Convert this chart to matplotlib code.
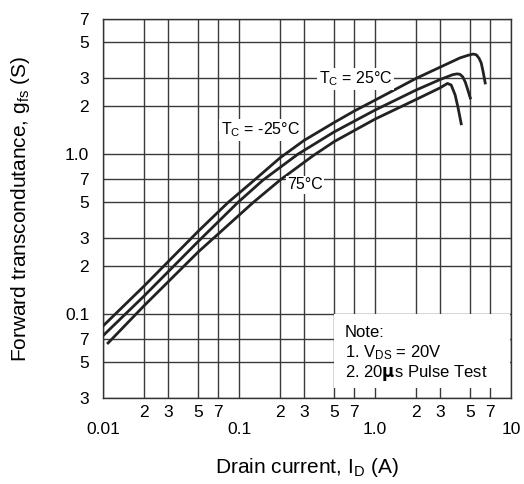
import matplotlib
matplotlib.use("Agg")
import matplotlib.pyplot as plt
from matplotlib.patches import Rectangle
from matplotlib.ticker import FixedLocator, NullFormatter

plt.rcParams['font.family'] = ['Liberation Sans', 'DejaVu Sans']
plt.rcParams['mathtext.default'] = 'regular'

# drain current (A) and forward transconductance (S)
id_top = [0.01, 0.02, 0.05, 0.083, 0.127, 0.2, 0.3, 0.5, 0.7, 1.0, 2.0, 3.0, 4.2,
          4.8, 5.26, 5.55, 5.8, 6.02, 6.22, 6.44]
gfs_top = [0.0845, 0.15, 0.33, 0.5, 0.68, 0.95, 1.22, 1.58, 1.86, 2.18, 2.98, 3.5, 4.0,
           4.15, 4.23, 4.18, 3.98, 3.72, 3.27, 2.79]

id_mid = [0.01, 0.02, 0.05, 0.098, 0.15, 0.27, 0.5, 1.0, 2.0, 3.0, 3.7, 4.0, 4.2,
          4.4, 4.6, 4.8, 5.0]
gfs_mid = [0.0735, 0.13, 0.285, 0.5, 0.69, 1.0, 1.38, 1.89, 2.52, 2.93, 3.14, 3.18, 3.16,
           3.05, 2.82, 2.52, 2.25]

id_low = [0.0109, 0.02, 0.05, 0.127, 0.2, 0.35, 0.5, 1.0, 2.0, 3.0, 3.4, 3.62, 3.87,
          4.07, 4.29]
gfs_low = [0.0662, 0.113, 0.245, 0.5, 0.69, 0.98, 1.2, 1.66, 2.2, 2.6, 2.77, 2.71, 2.35,
           1.95, 1.55]

x_major = [0.01, 0.1, 1.0, 10]
x_major_labels = ["0.01", "0.1", "1.0", "10"]
x_minor = [0.02, 0.03, 0.05, 0.07, 0.2, 0.3, 0.5, 0.7, 2, 3, 5, 7]
x_minor_labels = ["2", "3", "5", "7"] * 3

y_ticks = [0.03, 0.05, 0.07, 0.1, 0.2, 0.3, 0.5, 0.7, 1.0, 2, 3, 5, 7]
y_labels = ["3", "5", "7", "0.1", "2", "3", "5", "7", "1.0", "2", "3", "5", "7"]

fig = plt.figure(figsize=(5.24, 4.84), dpi=100)
ax = fig.add_axes([0.1966, 0.1777, 0.7790, 0.7830])
ax.set_xscale('log')
ax.set_yscale('log')
ax.set_xlim(0.01, 10)
ax.set_ylim(0.03, 7)

ax.xaxis.set_major_locator(FixedLocator(x_major))
ax.xaxis.set_minor_locator(FixedLocator(x_minor))
ax.set_xticklabels(x_major_labels)
ax.set_xticklabels(x_minor_labels, minor=True)
ax.tick_params(axis='x', which='major', length=0, pad=17, labelsize=12.5)
ax.tick_params(axis='x', which='minor', length=0, pad=5, labelsize=12.5)

ax.yaxis.set_major_locator(FixedLocator(y_ticks))
ax.yaxis.set_minor_locator(FixedLocator([]))
ax.yaxis.set_minor_formatter(NullFormatter())
ax.set_yticklabels(y_labels)
ax.tick_params(axis='y', which='both', length=0, pad=10, labelsize=12.5)

ax.grid(True, which='both', color='#3a3a3a', linewidth=1.0)
ax.set_axisbelow(True)
for s in ax.spines.values():
    s.set_color('#333333')
    s.set_linewidth(1.0)

for xs, ys in [(id_top, gfs_top), (id_mid, gfs_mid), (id_low, gfs_low)]:
    ax.plot(xs, ys, color='#222222', linewidth=2.0, solid_joinstyle='round', zorder=3)

lbl = dict(fontsize=11.5, ha='center', va='center', zorder=4,
           bbox=dict(facecolor='white', edgecolor='none', pad=1.0))
ax.text(0.72, 2.95, "T$_C$ = 25°C", **lbl)
ax.text(0.1426, 1.42, "T$_C$ = -25°C", **lbl)
ax.text(0.305, 0.643, "75°C", **lbl)

# note box
ax.add_patch(Rectangle((0.5, 0.0345), 9.8 - 0.5, 0.1 - 0.0345, facecolor='white',
                       edgecolor='none', zorder=2))
ax.text(0.6, 0.0775, "Note:", fontsize=12, va='center', zorder=4)
ax.text(0.6, 0.0573, "1. V$_{DS}$ = 20V", fontsize=12, va='center', zorder=4)
ax.text(0.6, 0.0429, "2. 20$\\mathbf{\\mu}$s Pulse Test", fontsize=12, va='center', zorder=4)

ax.set_xlabel("Drain current, I$_D$ (A)", fontsize=15, labelpad=14)
ax.set_ylabel("Forward transcondutance, g$_{fs}$ (S)", fontsize=15, labelpad=24)

fig.savefig("out.png", dpi=100)
